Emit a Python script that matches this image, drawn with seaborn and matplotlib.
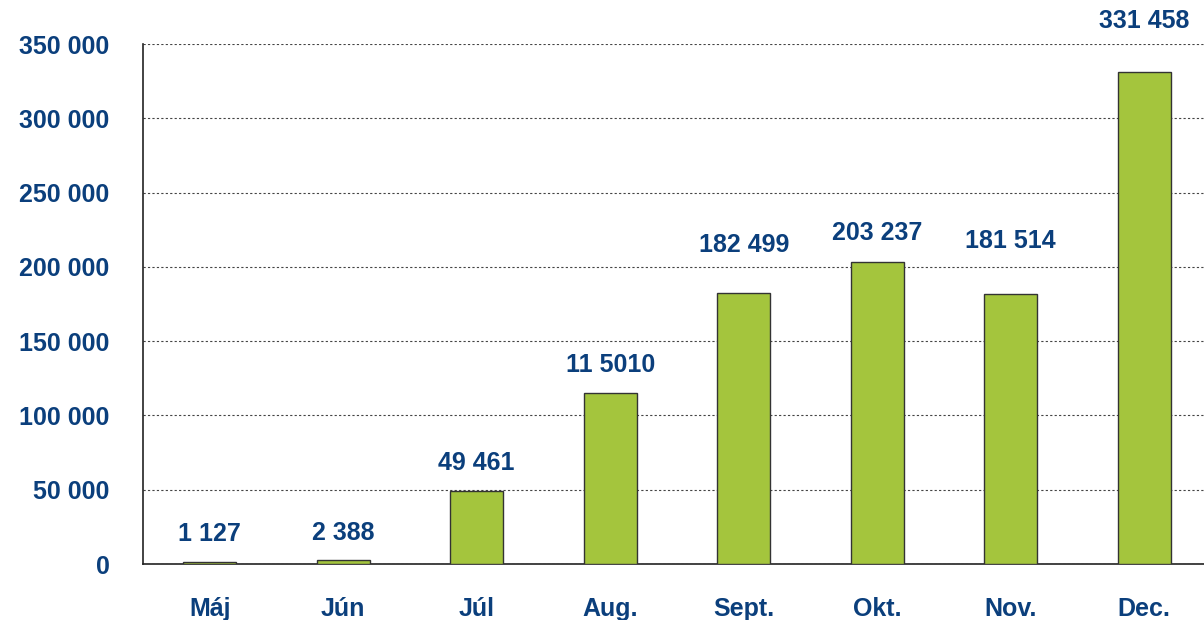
import matplotlib
matplotlib.use("Agg")
import matplotlib.pyplot as plt
import seaborn as sns
import pandas as pd
from matplotlib.ticker import FixedLocator

months = ['Máj', 'Jún', 'Júl', 'Aug.', 'Sept.', 'Okt.', 'Nov.', 'Dec.']
values = [1127, 2388, 49461, 115010, 182499, 203237, 181514, 331458]
value_labels = ['1 127', '2 388', '49 461', '11 5010', '182 499', '203 237', '181 514', '331 458']
y_ticks = [0, 50000, 100000, 150000, 200000, 250000, 300000, 350000]
y_tick_labels = ['0', '50 000', '100 000', '150 000', '200 000', '250 000', '300 000', '350 000']

# label gap above each bar (points) - the original places them by hand
label_gap = [12, 11, 11.5, 11.5, 26, 12, 29.5, 27.4]

navy = '#0b3f7c'
green = '#a4c53d'

sns.set_theme(style='white')
plt.rcParams['font.family'] = ['Liberation Sans', 'DejaVu Sans']

df = pd.DataFrame({'month': months, 'value': values})

fig = plt.figure(figsize=(12.04, 6.2), dpi=100)
ax = fig.add_axes([143 / 1204, 56 / 620, 1068 / 1204, 520 / 620])

sns.barplot(data=df, x='month', y='value', color=green, width=0.4,
            edgecolor='#333333', linewidth=1, saturation=1, ax=ax, zorder=3)

ax.set_ylim(0, 350000)
ax.set_xlim(-0.5, len(months) - 0.5)

# Gridlines
ax.set_yticks(y_ticks)
ax.set_yticklabels(y_tick_labels)
ax.yaxis.grid(True, linestyle=(0, (2, 2)), color='#444444', linewidth=0.8, zorder=0)
ax.xaxis.grid(False)

# Spines
for s in ['top', 'right']:
    ax.spines[s].set_visible(False)
for s in ['left', 'bottom']:
    ax.spines[s].set_color('#222222')
    ax.spines[s].set_linewidth(1.2)

# Ticks
ax.tick_params(axis='y', length=7.2, width=1, color='#222222', pad=17,
               labelsize=18, labelcolor=navy)
ax.tick_params(axis='x', which='major', length=0, pad=24, labelsize=18, labelcolor=navy)
ax.xaxis.set_minor_locator(FixedLocator([i - 0.5 for i in range(len(months) + 1)]))
ax.tick_params(axis='x', which='minor', length=7.2, width=1, color='#222222')
for lbl in ax.get_xticklabels() + ax.get_yticklabels():
    lbl.set_fontweight('bold')

ax.set_xlabel('')
ax.set_ylabel('')

# Value labels
for i, (v, t) in enumerate(zip(values, value_labels)):
    ax.annotate(t, xy=(i, v), xytext=(0, label_gap[i]), textcoords='offset points',
                ha='center', va='bottom', fontsize=18, fontweight='bold',
                color=navy, annotation_clip=False)

fig.savefig('out.png', dpi=100)
